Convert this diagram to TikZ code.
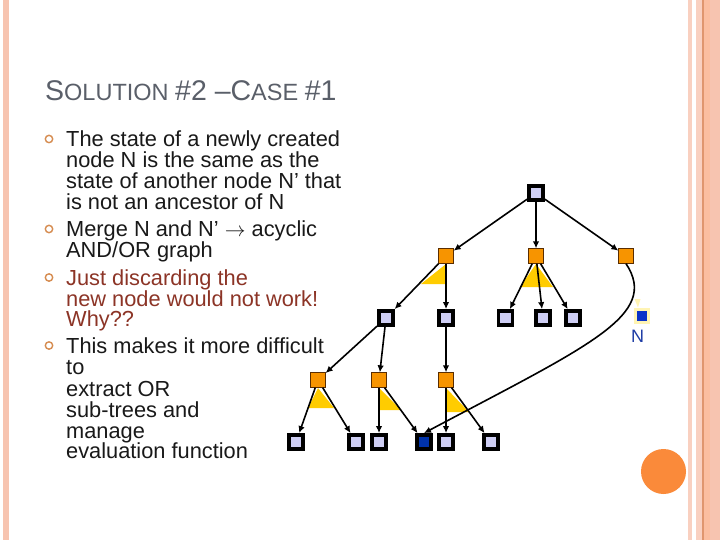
\documentclass[tikz,border=0pt]{standalone}
\usepackage{fontspec}
\setmainfont{Liberation Sans}
\usetikzlibrary{arrows.meta}
\definecolor{stripeA}{RGB}{247,196,176}
\definecolor{stripeB}{RGB}{249,208,192}
\definecolor{stripeC}{RGB}{224,150,110}
\definecolor{stripeD}{RGB}{251,190,160}
\definecolor{titlegray}{RGB}{90,95,105}
\definecolor{txt}{RGB}{25,25,25}
\definecolor{redtxt}{RGB}{140,52,38}
\definecolor{bul}{RGB}{214,140,80}
\definecolor{lav}{RGB}{206,206,244}
\definecolor{orng}{RGB}{247,148,0}
\definecolor{ordark}{RGB}{90,45,0}
\definecolor{gold}{RGB}{255,204,0}
\definecolor{nblue}{RGB}{10,50,200}
\definecolor{dblue}{RGB}{0,50,170}
\definecolor{halo}{RGB}{255,244,180}
\definecolor{nlab}{RGB}{30,60,165}
\definecolor{circ}{RGB}{250,138,58}
\tikzset{
  andn/.style={draw=black, line width=3.8pt, fill=lav, minimum size=14pt, inner sep=0pt},
  bandn/.style={andn, fill=dblue},
  orn/.style={draw=ordark, line width=0.8pt, fill=orng, minimum size=14.5pt, inner sep=0pt},
  edge/.style={line width=1.6pt, -{Latex[length=7pt,width=6.5pt]}},
  wedge/.style={fill=gold},
  bl/.style={anchor=base west, inner sep=0pt, text=txt, font=\fontsize{21.8}{22}\selectfont},
  rbl/.style={bl, text=redtxt},
  bulc/.style={draw=bul, line width=1.4pt}
}
\begin{document}
\begin{tikzpicture}[x=1pt,y=-1pt]
\useasboundingbox (0,0) rectangle (720,540);
\fill[white] (0,0) rectangle (720,540);
% borders
\fill[stripeA] (3,0) rectangle (9,540);
\fill[stripeB] (688,0) rectangle (692,540);
\fill[stripeB] (696,0) rectangle (702,540);
\fill[stripeC] (702,0) rectangle (703.5,540);
\fill[stripeD] (703.5,0) rectangle (710,540);
\fill[stripeA] (710,0) rectangle (720,540);
% title
\node[anchor=base west, inner sep=0pt, text=titlegray] (title) at (45,101)
 {\fontsize{28.5}{30}\selectfont S\fontsize{23.5}{25}\selectfont OLUTION \fontsize{28.5}{30}\selectfont \#2 –C\fontsize{23.5}{25}\selectfont ASE \fontsize{28.5}{30}\selectfont \#1};
% bullets
\foreach \by in {139,229,277.5,345.5}{\draw[bulc] (49,\by) circle (3.7);}
\node[bl] (t1) at (66,147) {The state of a newly created};
\node[bl] (t2) at (66,168) {node N is the same as the};
\node[bl] (t3) at (66,189) {state of another node N’ that};
\node[bl] (t4) at (66,210) {is not an ancestor of N};
\node[bl] (t5) at (66,236.7) {Merge N and N’ $\rightarrow$ acyclic};
\node[bl] (t6) at (66,257.7) {AND/OR graph};
\node[rbl] (t7) at (66,285) {Just discarding the};
\node[rbl] (t8) at (66,306) {new node would not work!};
\node[rbl] (t9) at (66,326.7) {Why??};
\node[bl] (t10) at (66,353) {This makes it more difficult};
\node[bl] (t11) at (66,374) {to};
\node[bl] (t12) at (66,396) {extract OR};
\node[bl] (t13) at (66,417) {sub-trees and};
\node[bl] (t14) at (66,438) {manage};
\node[bl] (t15) at (66,458.5) {evaluation function};
% wedges
\fill[wedge] (446,264) -- (421,284) -- (446,284) -- cycle;
\fill[wedge] (536,264) -- (520,287) -- (553,287) -- cycle;
\fill[wedge] (318,388) -- (308,408) -- (334,408) -- cycle;
\fill[wedge] (379,388) -- (379,410) -- (401,410) -- cycle;
\fill[wedge] (446,388) -- (446,412) -- (469,412) -- cycle;
% faint yellow mark near N
\fill[halo] (634.5,299) -- (640.5,299) -- (638,307.5) -- cycle;
% nodes
\node[andn] (root) at (536,193) {};
\node[orn] (o1) at (446,256) {};
\node[orn] (o2) at (536,256) {};
\node[orn] (o3) at (626,256) {};
\node[andn] (a1) at (386,318) {};
\node[andn] (a2) at (446,318) {};
\node[andn] (a3) at (505.5,318) {};
\node[andn] (a4) at (543,318) {};
\node[andn] (a5) at (573,318) {};
\node[draw=halo, line width=3pt, fill=nblue, minimum size=13pt, inner sep=0pt] (N) at (641.5,316) {};
\node[inner sep=0pt, text=nlab, font=\fontsize{18}{18}\selectfont] (Nlab) at (637.5,336) {N};
\node[orn] (o4) at (318,380) {};
\node[orn] (o5) at (379,380) {};
\node[orn] (o6) at (446,380) {};
\node[andn] (b1) at (296,442) {};
\node[andn] (b2) at (356,442) {};
\node[andn] (b3) at (379,442) {};
\node[bandn] (b4) at (424,442) {};
\node[andn] (b5) at (446,442) {};
\node[andn] (b6) at (491,442) {};
% edges
\draw[edge] (root) -- (o1);
\draw[edge] (root) -- (o2);
\draw[edge] (root) -- (o3);
\draw[edge] (o1) -- (a1);
\draw[edge] (o1) -- (a2);
\draw[edge] (o2) -- (a3);
\draw[edge] (o2) -- (a4);
\draw[edge] (o2) -- (a5);
\draw[edge] (a1) -- (o4);
\draw[edge] (a1) -- (o5);
\draw[edge] (a2) -- (o6);
\draw[edge] (o4) -- (b1);
\draw[edge] (o4) -- (b2);
\draw[edge] (o5) -- (b3);
\draw[edge] (o5) -- (b4);
\draw[edge] (o6) -- (b5);
\draw[edge] (o6) -- (b6);
\draw[edge] (o3.south) .. controls (660,315) and (590,345) .. (b4.north);
% decorative circle
\fill[circ] (663.5,471.5) circle (22.5);
\end{tikzpicture}
\end{document}
